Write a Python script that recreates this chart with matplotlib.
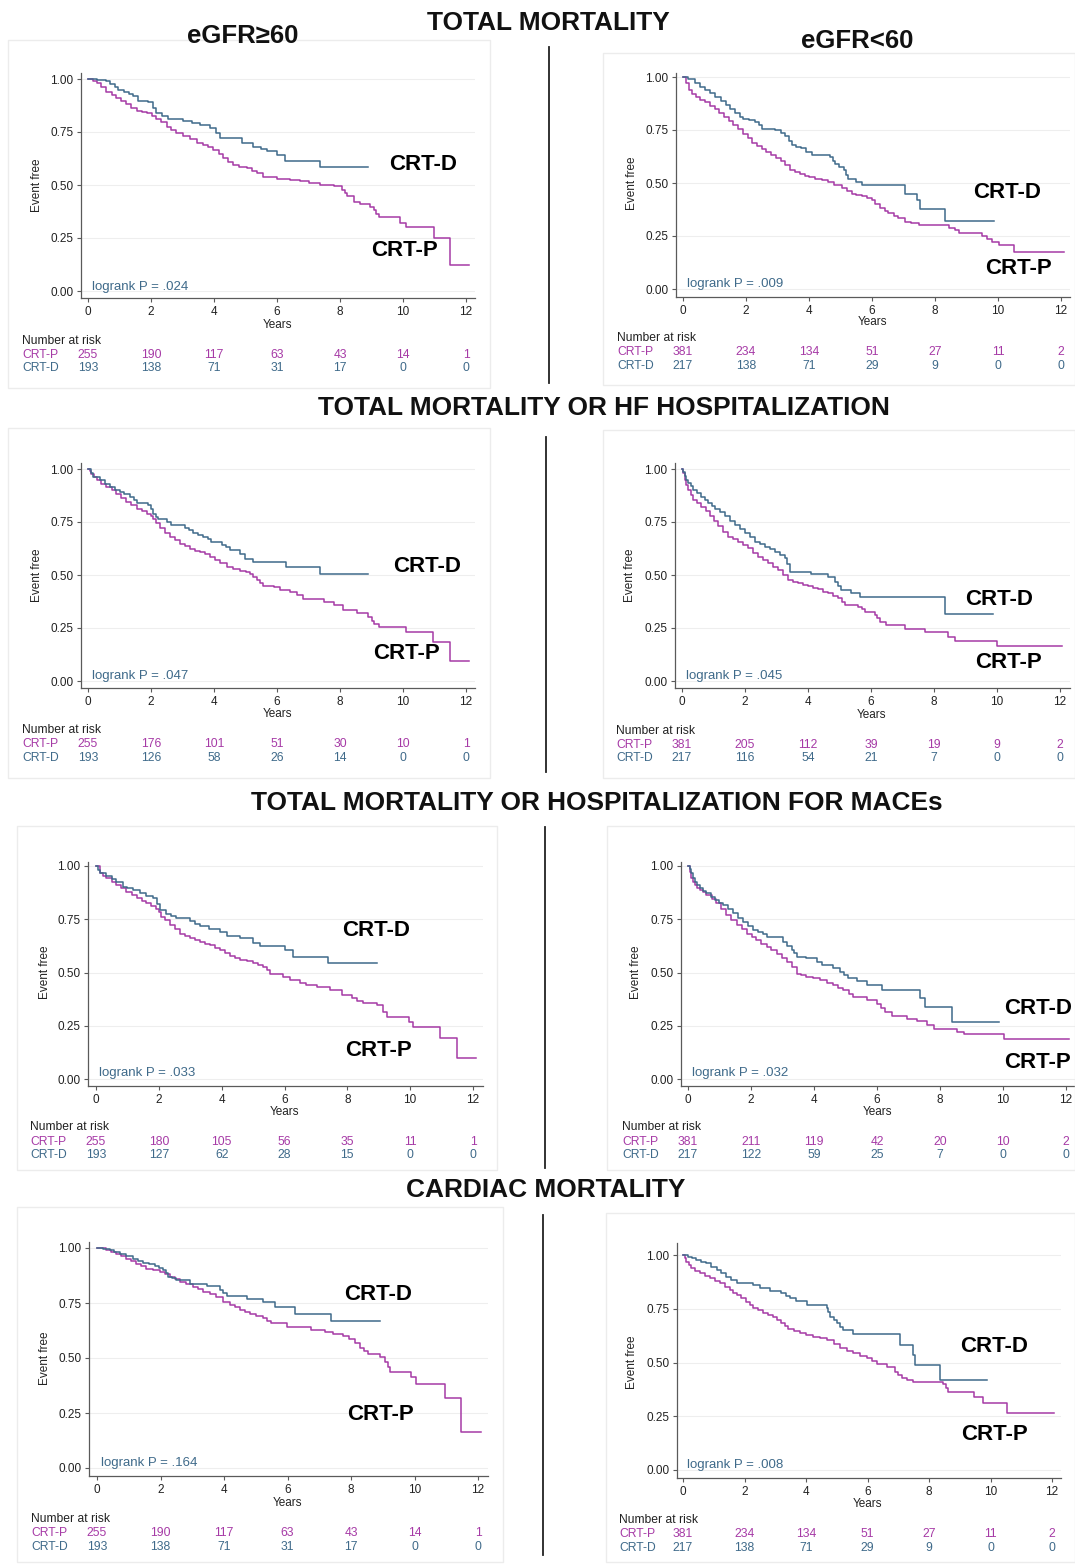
import matplotlib
matplotlib.use('Agg')
import matplotlib.pyplot as plt
from matplotlib.transforms import blended_transform_factory
from matplotlib.patches import Rectangle
from matplotlib.lines import Line2D

plt.rcParams['font.family'] = ['Liberation Sans', 'DejaVu Sans']

# ---------------- DATA ----------------
years_ticks = [0, 2, 4, 6, 8, 10, 12]
y_ticks = [0.0, 0.25, 0.5, 0.75, 1.0]
groups = ['CRT-P', 'CRT-D']

# Panel 1: total mortality, eGFR>=60
tm_hi_d_t = [0, 0.3, 0.58, 0.7, 0.85, 0.95, 1.15, 1.3, 1.43, 1.6, 1.9, 2.05, 2.17, 2.35, 2.55, 3.0, 3.3, 3.55, 3.87, 4.05, 4.2, 4.9, 5.25, 5.5, 5.67, 6.0, 6.26, 7.37, 8.9]
tm_hi_d_s = [1.0, 0.995, 0.99, 0.975, 0.96, 0.95, 0.94, 0.93, 0.92, 0.895, 0.89, 0.865, 0.84, 0.825, 0.81, 0.80, 0.793, 0.785, 0.77, 0.745, 0.72, 0.70, 0.68, 0.67, 0.66, 0.64, 0.615, 0.585, 0.585]
tm_hi_p_t = [0, 0.15, 0.27, 0.42, 0.58, 0.75, 0.9, 1.05, 1.22, 1.38, 1.54, 1.7, 1.86, 2.02, 2.17, 2.33, 2.5, 2.65, 2.8, 3.0, 3.23, 3.45, 3.66, 3.82, 3.98, 4.15, 4.3, 4.45, 4.6, 4.8, 5.04, 5.2, 5.36, 5.57, 6.0, 6.4, 6.73, 7.0, 7.37, 7.8, 8.06, 8.15, 8.22, 8.43, 8.64, 8.96, 9.07, 9.15, 9.23, 9.92, 10.08, 10.98, 11.48, 12.09]
tm_hi_p_s = [1.0, 0.99, 0.98, 0.96, 0.94, 0.925, 0.91, 0.895, 0.88, 0.865, 0.848, 0.843, 0.84, 0.825, 0.81, 0.795, 0.775, 0.76, 0.745, 0.73, 0.715, 0.70, 0.69, 0.678, 0.666, 0.648, 0.627, 0.61, 0.595, 0.587, 0.58, 0.568, 0.556, 0.537, 0.528, 0.522, 0.517, 0.51, 0.50, 0.493, 0.477, 0.46, 0.446, 0.422, 0.41, 0.398, 0.383, 0.365, 0.348, 0.32, 0.30, 0.249, 0.123, 0.123]
tm_hi_risk_p = [255, 190, 117, 63, 43, 14, 1]
tm_hi_risk_d = [193, 138, 71, 31, 17, 0, 0]

# Panel 2: total mortality, eGFR<60
tm_lo_d_t = [0, 0.15, 0.37, 0.55, 0.69, 0.85, 1.0, 1.2, 1.38, 1.5, 1.64, 1.8, 1.9, 2.1, 2.28, 2.4, 2.5, 2.92, 3.1, 3.23, 3.35, 3.45, 3.6, 3.76, 3.9, 4.08, 4.67, 4.75, 4.83, 4.95, 5.1, 5.18, 5.25, 5.5, 5.67, 7.05, 7.42, 7.53, 8.32, 9.86]
tm_lo_d_s = [1.0, 0.99, 0.97, 0.955, 0.94, 0.925, 0.906, 0.885, 0.867, 0.85, 0.83, 0.81, 0.80, 0.795, 0.79, 0.775, 0.757, 0.75, 0.735, 0.72, 0.70, 0.68, 0.67, 0.663, 0.648, 0.63, 0.624, 0.605, 0.59, 0.575, 0.56, 0.54, 0.52, 0.506, 0.49, 0.447, 0.42, 0.376, 0.32, 0.32]
tm_lo_p_t = [0, 0.1, 0.2, 0.27, 0.4, 0.55, 0.7, 0.85, 1.0, 1.15, 1.3, 1.45, 1.6, 1.75, 1.9, 2.05, 2.2, 2.35, 2.5, 2.65, 2.8, 2.95, 3.1, 3.25, 3.4, 3.55, 3.7, 3.87, 4.0, 4.19, 4.4, 4.61, 4.8, 5.04, 5.2, 5.36, 5.5, 5.67, 5.85, 5.99, 6.1, 6.26, 6.4, 6.52, 6.7, 6.84, 7.05, 7.25, 7.48, 8.45, 8.64, 8.75, 9.49, 9.65, 9.81, 10.02, 10.5, 12.09]
tm_lo_p_s = [1.0, 0.97, 0.94, 0.92, 0.905, 0.89, 0.88, 0.865, 0.85, 0.83, 0.81, 0.793, 0.775, 0.755, 0.73, 0.71, 0.69, 0.675, 0.66, 0.645, 0.632, 0.62, 0.603, 0.585, 0.56, 0.55, 0.543, 0.535, 0.528, 0.52, 0.512, 0.505, 0.49, 0.475, 0.462, 0.45, 0.443, 0.44, 0.43, 0.42, 0.40, 0.38, 0.37, 0.357, 0.345, 0.334, 0.318, 0.31, 0.30, 0.29, 0.278, 0.263, 0.248, 0.235, 0.224, 0.208, 0.174, 0.174]
tm_lo_risk_p = [381, 234, 134, 51, 27, 11, 2]
tm_lo_risk_d = [217, 138, 71, 29, 9, 0, 0]

# Panel 3: total mortality or HF hospitalization, eGFR>=60
hf_hi_d_t = [0, 0.08, 0.16, 0.37, 0.55, 0.69, 0.85, 1.0, 1.15, 1.33, 1.45, 1.54, 1.9, 2.0, 2.07, 2.15, 2.23, 2.5, 2.65, 3.07, 3.2, 3.34, 3.5, 3.66, 3.8, 3.92, 4.24, 4.38, 4.5, 4.83, 4.98, 5.25, 6.3, 7.37, 8.9]
hf_hi_d_s = [1.0, 0.98, 0.96, 0.947, 0.93, 0.915, 0.90, 0.89, 0.88, 0.868, 0.855, 0.84, 0.83, 0.81, 0.79, 0.775, 0.766, 0.75, 0.734, 0.72, 0.71, 0.70, 0.69, 0.68, 0.668, 0.657, 0.64, 0.63, 0.617, 0.60, 0.577, 0.56, 0.537, 0.506, 0.506]
hf_hi_p_t = [0, 0.05, 0.1, 0.18, 0.27, 0.42, 0.58, 0.75, 0.9, 1.05, 1.22, 1.38, 1.54, 1.7, 1.86, 2.0, 2.07, 2.17, 2.28, 2.45, 2.6, 2.75, 2.92, 3.08, 3.23, 3.4, 3.55, 3.7, 3.87, 4.03, 4.19, 4.4, 4.6, 4.83, 5.0, 5.14, 5.25, 5.36, 5.47, 5.57, 5.89, 6.1, 6.42, 6.63, 6.84, 7.48, 7.8, 8.11, 8.54, 8.9, 9.0, 9.07, 9.23, 10.08, 10.96, 11.48, 12.09]
hf_hi_p_s = [1.0, 0.99, 0.978, 0.96, 0.947, 0.93, 0.915, 0.90, 0.884, 0.865, 0.844, 0.828, 0.813, 0.80, 0.79, 0.78, 0.766, 0.745, 0.72, 0.70, 0.68, 0.663, 0.648, 0.635, 0.624, 0.615, 0.608, 0.598, 0.585, 0.57, 0.556, 0.537, 0.53, 0.52, 0.512, 0.506, 0.49, 0.475, 0.46, 0.45, 0.443, 0.428, 0.42, 0.404, 0.388, 0.373, 0.357, 0.336, 0.32, 0.30, 0.285, 0.27, 0.257, 0.23, 0.184, 0.094, 0.094]
hf_hi_risk_p = [255, 176, 101, 51, 30, 10, 1]
hf_hi_risk_d = [193, 126, 58, 26, 14, 0, 0]

# Panel 4: total mortality or HF hospitalization, eGFR<60
hf_lo_d_t = [0, 0.04, 0.08, 0.13, 0.19, 0.27, 0.35, 0.48, 0.61, 0.72, 0.83, 0.94, 1.04, 1.2, 1.36, 1.52, 1.67, 1.83, 1.99, 2.15, 2.31, 2.47, 2.63, 2.8, 2.94, 3.1, 3.26, 3.34, 3.42, 4.11, 4.64, 4.85, 4.95, 5.06, 5.38, 5.65, 8.35, 9.88]
hf_lo_d_s = [1.0, 0.985, 0.965, 0.95, 0.934, 0.918, 0.902, 0.886, 0.87, 0.855, 0.84, 0.825, 0.81, 0.795, 0.776, 0.757, 0.737, 0.717, 0.697, 0.677, 0.658, 0.646, 0.634, 0.622, 0.61, 0.595, 0.58, 0.55, 0.516, 0.505, 0.492, 0.468, 0.45, 0.43, 0.413, 0.397, 0.315, 0.315]
hf_lo_p_t = [0, 0.04, 0.08, 0.13, 0.19, 0.27, 0.35, 0.48, 0.61, 0.75, 0.88, 1.0, 1.14, 1.3, 1.46, 1.62, 1.78, 1.94, 2.1, 2.26, 2.42, 2.58, 2.73, 2.9, 3.05, 3.2, 3.37, 3.53, 3.69, 3.85, 4.0, 4.16, 4.32, 4.48, 4.64, 4.8, 4.96, 5.07, 5.17, 5.59, 5.7, 5.8, 6.12, 6.2, 6.28, 6.49, 7.08, 7.71, 8.45, 8.66, 9.99, 12.05]
hf_lo_p_s = [1.0, 0.98, 0.95, 0.925, 0.902, 0.878, 0.855, 0.84, 0.823, 0.80, 0.776, 0.755, 0.73, 0.705, 0.68, 0.668, 0.658, 0.642, 0.626, 0.606, 0.587, 0.57, 0.555, 0.54, 0.524, 0.50, 0.476, 0.468, 0.46, 0.454, 0.448, 0.44, 0.432, 0.422, 0.413, 0.40, 0.39, 0.372, 0.357, 0.35, 0.338, 0.326, 0.31, 0.295, 0.279, 0.263, 0.244, 0.229, 0.208, 0.189, 0.166, 0.166]
hf_lo_risk_p = [381, 205, 112, 39, 19, 9, 2]
hf_lo_risk_d = [217, 116, 54, 21, 7, 0, 0]

# Panel 5: total mortality or hospitalization for MACEs, eGFR>=60
mace_hi_d_t = [0, 0.06, 0.12, 0.33, 0.5, 0.65, 0.86, 1.0, 1.18, 1.39, 1.6, 1.82, 1.93, 2.03, 2.24, 2.4, 2.56, 2.99, 3.15, 3.3, 3.6, 3.94, 4.16, 4.58, 5.0, 5.22, 6.01, 6.28, 7.4, 8.94]
mace_hi_d_s = [1.0, 0.98, 0.966, 0.955, 0.94, 0.926, 0.903, 0.895, 0.887, 0.871, 0.86, 0.848, 0.82, 0.793, 0.774, 0.765, 0.754, 0.74, 0.728, 0.718, 0.705, 0.69, 0.67, 0.66, 0.64, 0.624, 0.605, 0.574, 0.545, 0.545]
mace_hi_p_t = [0, 0.12, 0.22, 0.33, 0.5, 0.65, 0.8, 0.97, 1.13, 1.29, 1.45, 1.6, 1.76, 1.92, 2.0, 2.08, 2.2, 2.35, 2.5, 2.67, 2.83, 2.99, 3.15, 3.3, 3.46, 3.62, 3.78, 3.94, 4.1, 4.26, 4.42, 4.58, 4.8, 5.0, 5.16, 5.32, 5.43, 5.54, 5.96, 6.17, 6.49, 6.7, 7.02, 7.45, 7.82, 8.14, 8.32, 8.51, 8.94, 9.15, 9.25, 9.95, 10.1, 10.95, 11.49, 12.1]
mace_hi_p_s = [1.0, 0.966, 0.955, 0.942, 0.925, 0.91, 0.895, 0.88, 0.864, 0.848, 0.835, 0.824, 0.812, 0.80, 0.785, 0.762, 0.745, 0.723, 0.703, 0.683, 0.67, 0.66, 0.652, 0.644, 0.636, 0.628, 0.617, 0.605, 0.59, 0.577, 0.567, 0.558, 0.552, 0.545, 0.536, 0.527, 0.51, 0.495, 0.48, 0.464, 0.451, 0.44, 0.432, 0.417, 0.393, 0.378, 0.367, 0.357, 0.346, 0.315, 0.291, 0.268, 0.245, 0.194, 0.099, 0.099]
mace_hi_risk_p = [255, 180, 105, 56, 35, 11, 1]
mace_hi_risk_d = [193, 127, 62, 28, 15, 0, 0]

# Panel 6: total mortality or hospitalization for MACEs, eGFR<60
mace_lo_d_t = [0, 0.05, 0.1, 0.16, 0.21, 0.3, 0.37, 0.48, 0.58, 0.72, 0.85, 0.98, 1.11, 1.27, 1.43, 1.59, 1.75, 1.91, 2.07, 2.23, 2.39, 2.5, 3.02, 3.15, 3.29, 3.37, 3.45, 3.76, 4.08, 4.24, 4.61, 4.83, 4.96, 5.09, 5.36, 5.67, 6.15, 7.37, 7.53, 8.38, 9.86]
mace_lo_d_s = [1.0, 0.985, 0.966, 0.945, 0.926, 0.91, 0.895, 0.883, 0.871, 0.855, 0.84, 0.825, 0.817, 0.797, 0.777, 0.757, 0.738, 0.72, 0.70, 0.69, 0.683, 0.665, 0.644, 0.625, 0.605, 0.59, 0.574, 0.566, 0.55, 0.535, 0.52, 0.503, 0.488, 0.472, 0.46, 0.44, 0.42, 0.378, 0.339, 0.268, 0.268]
mace_lo_p_t = [0, 0.05, 0.1, 0.16, 0.21, 0.3, 0.37, 0.48, 0.58, 0.75, 0.9, 1.05, 1.22, 1.38, 1.54, 1.7, 1.86, 2.02, 2.17, 2.33, 2.5, 2.65, 2.81, 2.97, 3.13, 3.3, 3.45, 3.6, 3.76, 3.98, 4.19, 4.4, 4.61, 4.77, 4.93, 5.1, 5.25, 5.67, 5.99, 6.12, 6.26, 6.47, 6.95, 7.27, 7.58, 7.8, 8.54, 8.75, 10.02, 12.09]
mace_lo_p_s = [1.0, 0.97, 0.942, 0.925, 0.91, 0.898, 0.887, 0.876, 0.864, 0.845, 0.824, 0.798, 0.77, 0.745, 0.723, 0.703, 0.683, 0.668, 0.652, 0.636, 0.62, 0.605, 0.589, 0.57, 0.55, 0.525, 0.495, 0.487, 0.48, 0.472, 0.464, 0.452, 0.44, 0.428, 0.417, 0.40, 0.386, 0.373, 0.354, 0.335, 0.315, 0.296, 0.284, 0.271, 0.252, 0.234, 0.221, 0.21, 0.187, 0.187]
mace_lo_risk_p = [381, 211, 119, 42, 20, 10, 2]
mace_lo_risk_d = [217, 122, 59, 25, 7, 0, 0]

# Panel 7: cardiac mortality, eGFR>=60
cm_hi_d_t = [0, 0.2, 0.4, 0.55, 0.71, 0.92, 1.13, 1.3, 1.45, 1.65, 1.82, 1.95, 2.08, 2.16, 2.24, 2.37, 2.5, 2.92, 3.45, 3.87, 3.97, 4.08, 4.71, 5.23, 5.6, 6.23, 7.38, 8.9]
cm_hi_d_s = [1.0, 0.995, 0.99, 0.983, 0.974, 0.963, 0.952, 0.943, 0.934, 0.926, 0.918, 0.909, 0.899, 0.885, 0.87, 0.862, 0.853, 0.838, 0.826, 0.81, 0.795, 0.78, 0.766, 0.755, 0.73, 0.698, 0.67, 0.67]
cm_hi_p_t = [0, 0.29, 0.45, 0.61, 0.77, 0.92, 1.08, 1.24, 1.4, 1.55, 1.76, 1.97, 2.13, 2.29, 2.45, 2.6, 2.8, 3.03, 3.18, 3.34, 3.55, 3.76, 3.97, 4.18, 4.34, 4.5, 4.65, 4.81, 5.02, 5.23, 5.36, 5.49, 5.97, 6.75, 7.17, 7.44, 7.75, 7.95, 8.12, 8.28, 8.4, 8.54, 8.91, 9.07, 9.15, 9.23, 9.9, 10.06, 10.96, 11.48, 12.08]
cm_hi_p_s = [1.0, 0.99, 0.983, 0.974, 0.963, 0.952, 0.94, 0.929, 0.917, 0.906, 0.898, 0.891, 0.88, 0.87, 0.858, 0.846, 0.835, 0.823, 0.812, 0.80, 0.79, 0.778, 0.755, 0.74, 0.73, 0.718, 0.71, 0.70, 0.69, 0.68, 0.668, 0.657, 0.642, 0.627, 0.62, 0.61, 0.60, 0.585, 0.566, 0.544, 0.53, 0.518, 0.506, 0.483, 0.46, 0.438, 0.415, 0.382, 0.317, 0.162, 0.162]
cm_hi_risk_p = [255, 190, 117, 63, 43, 14, 1]
cm_hi_risk_d = [193, 138, 71, 31, 17, 0, 0]

# Panel 8: cardiac mortality, eGFR<60
cm_lo_d_t = [0, 0.16, 0.3, 0.43, 0.6, 0.76, 0.92, 1.09, 1.25, 1.41, 1.57, 1.74, 2.28, 2.5, 2.82, 3.2, 3.34, 3.47, 3.69, 4.02, 4.67, 4.72, 4.78, 4.9, 5.0, 5.1, 5.21, 5.54, 7.06, 7.49, 7.55, 8.36, 9.88]
cm_lo_d_s = [1.0, 0.992, 0.985, 0.977, 0.969, 0.961, 0.945, 0.93, 0.915, 0.90, 0.885, 0.871, 0.86, 0.845, 0.834, 0.822, 0.81, 0.80, 0.786, 0.767, 0.755, 0.735, 0.713, 0.697, 0.682, 0.667, 0.651, 0.633, 0.581, 0.535, 0.488, 0.419, 0.419]
cm_lo_p_t = [0, 0.06, 0.11, 0.19, 0.27, 0.4, 0.54, 0.7, 0.87, 1.03, 1.19, 1.35, 1.52, 1.63, 1.74, 1.9, 2.06, 2.17, 2.28, 2.45, 2.61, 2.77, 2.93, 3.07, 3.2, 3.31, 3.42, 3.6, 3.8, 4.0, 4.23, 4.45, 4.67, 4.9, 5.1, 5.32, 5.54, 5.75, 5.97, 6.14, 6.3, 6.62, 6.9, 7.0, 7.12, 7.3, 7.49, 8.47, 8.55, 8.63, 9.45, 9.77, 10.53, 12.07]
cm_lo_p_s = [1.0, 0.985, 0.969, 0.952, 0.938, 0.927, 0.915, 0.903, 0.891, 0.88, 0.868, 0.853, 0.837, 0.825, 0.814, 0.80, 0.783, 0.767, 0.752, 0.742, 0.732, 0.72, 0.71, 0.697, 0.682, 0.668, 0.654, 0.645, 0.636, 0.628, 0.62, 0.612, 0.605, 0.585, 0.566, 0.555, 0.543, 0.532, 0.52, 0.507, 0.493, 0.478, 0.457, 0.443, 0.43, 0.42, 0.411, 0.40, 0.38, 0.361, 0.341, 0.31, 0.264, 0.264]
cm_lo_risk_p = [381, 234, 134, 51, 27, 11, 2]
cm_lo_risk_d = [217, 138, 71, 29, 9, 0, 0]

pvalues = ['.024', '.009', '.047', '.045', '.033', '.032', '.164', '.008']

section_titles = ['TOTAL MORTALITY', 'TOTAL MORTALITY OR HF HOSPITALIZATION',
                  'TOTAL MORTALITY OR HOSPITALIZATION FOR MACEs', 'CARDIAC MORTALITY']
column_titles = ['eGFR\u226560', 'eGFR<60']

# ---------------- STYLE / LAYOUT ----------------
COL_P = '#A63AA6'
COL_D = '#3F6A8A'
SPINE = '#5a5a5a'
W, H = 1075, 1564

fig = plt.figure(figsize=(W / 100, H / 100), dpi=100)
fig.patch.set_facecolor('white')


def fx(x):
    return x / W


def fy(y):
    return 1 - y / H


# geometry (pixels): axes box L,R,T,B ; calibration px(0), px(12), py(1), py(0)
layouts = [
    dict(ax=(81, 475, 73, 298), cal=(88, 466, 79, 291), nar=(341, 355, 368), labx=22, ylabx=37,
         years=325, lr=(92, 287), cd=(423, 165, 'center'), cp=(404, 250, 'center'), box=(8, 40, 490, 388)),
    dict(ax=(676, 1070, 73, 297), cal=(683, 1061, 77, 289), nar=(338, 352, 366), labx=617, ylabx=632,
         years=322, lr=(687, 284), cd=(1007, 192, 'center'), cp=(1018, 268, 'center'), box=(603, 53, 1075, 385)),
    dict(ax=(81, 475, 463, 688), cal=(88, 466, 469, 681), nar=(730, 744, 758), labx=22, ylabx=37,
         years=714, lr=(92, 676), cd=(427, 567, 'center'), cp=(406, 653, 'center'), box=(8, 428, 490, 778)),
    dict(ax=(675, 1070, 463, 688), cal=(682, 1060, 469, 681), nar=(731, 745, 758), labx=616, ylabx=630,
         years=715, lr=(686, 676), cd=(999, 600, 'center'), cp=(1008, 663, 'center'), box=(603, 430, 1075, 778)),
    dict(ax=(88, 483, 862, 1086), cal=(96, 473, 866, 1079), nar=(1127, 1142, 1155), labx=30, ylabx=45,
         years=1112, lr=(99, 1073), cd=(376, 931, 'center'), cp=(378, 1050, 'center'), box=(17, 826, 497, 1170)),
    dict(ax=(681, 1075, 862, 1086), cal=(688, 1066, 866, 1079), nar=(1127, 1142, 1155), labx=622, ylabx=636,
         years=1112, lr=(692, 1073), cd=(1004, 1008, 'left'), cp=(1004, 1062, 'left'), box=(607, 826, 1075, 1170)),
    dict(ax=(89, 488, 1242, 1476), cal=(97, 478, 1248, 1468), nar=(1519, 1533, 1547), labx=31, ylabx=45,
         years=1503, lr=(101, 1463), cd=(378, 1294, 'center'), cp=(381, 1414, 'center'), box=(17, 1207, 503, 1562)),
    dict(ax=(677, 1061, 1243, 1478), cal=(683, 1052, 1255, 1470), nar=(1520, 1534, 1548), labx=619, ylabx=632,
         years=1504, lr=(687, 1465), cd=(994, 1346, 'center'), cp=(994, 1435, 'center'), box=(606, 1213, 1075, 1562)),
]

curves = [
    (tm_hi_p_t, tm_hi_p_s, tm_hi_d_t, tm_hi_d_s, tm_hi_risk_p, tm_hi_risk_d),
    (tm_lo_p_t, tm_lo_p_s, tm_lo_d_t, tm_lo_d_s, tm_lo_risk_p, tm_lo_risk_d),
    (hf_hi_p_t, hf_hi_p_s, hf_hi_d_t, hf_hi_d_s, hf_hi_risk_p, hf_hi_risk_d),
    (hf_lo_p_t, hf_lo_p_s, hf_lo_d_t, hf_lo_d_s, hf_lo_risk_p, hf_lo_risk_d),
    (mace_hi_p_t, mace_hi_p_s, mace_hi_d_t, mace_hi_d_s, mace_hi_risk_p, mace_hi_risk_d),
    (mace_lo_p_t, mace_lo_p_s, mace_lo_d_t, mace_lo_d_s, mace_lo_risk_p, mace_lo_risk_d),
    (cm_hi_p_t, cm_hi_p_s, cm_hi_d_t, cm_hi_d_s, cm_hi_risk_p, cm_hi_risk_d),
    (cm_lo_p_t, cm_lo_p_s, cm_lo_d_t, cm_lo_d_s, cm_lo_risk_p, cm_lo_risk_d),
]

for g, (pt, ps, dt, ds, rp, rd), pv in zip(layouts, curves, pvalues):
    # faint panel frame
    x0, y0, x1, y1 = g['box']
    fig.add_artist(Rectangle((fx(x0), fy(y1)), (x1 - x0) / W, (y1 - y0) / H,
                             transform=fig.transFigure, fill=False, edgecolor='#ececec', lw=1.0))
    L, R, T, B = g['ax']
    px0, px12, py1, py0 = g['cal']
    ax = fig.add_axes([L / W, 1 - B / H, (R - L) / W, (B - T) / H])
    sx = 12.0 / (px12 - px0)
    sy = 1.0 / (py0 - py1)
    ax.set_xlim((L - px0) * sx, (R - px0) * sx)
    ax.set_ylim((py0 - B) * sy, (py0 - T) * sy)
    ax.set_facecolor('none')
    for sp in ['top', 'right']:
        ax.spines[sp].set_visible(False)
    for sp in ['left', 'bottom']:
        ax.spines[sp].set_color(SPINE)
        ax.spines[sp].set_linewidth(0.9)
    ax.set_xticks(years_ticks)
    ax.set_yticks(y_ticks)
    ax.set_yticklabels(['%.2f' % v for v in y_ticks])
    ax.tick_params(axis='both', colors=SPINE, labelcolor='#222222', labelsize=8.5,
                   length=3, width=0.8, pad=2.5)
    for v in y_ticks:
        ax.axhline(v, color='#eeeeee', lw=0.8, zorder=0)
    ax.step(pt, ps, where='post', color=COL_P, lw=1.1, zorder=3)
    ax.step(dt, ds, where='post', color=COL_D, lw=1.1, zorder=3)

    # labels
    ymid = (py1 + py0) / 2
    fig.text(fx(g['ylabx']), fy(ymid), 'Event free', rotation=90, ha='center', va='center',
             fontsize=8.5, color='#222222')
    trans = blended_transform_factory(ax.transData, fig.transFigure)
    ax.text(6, fy(g['years']), 'Years', transform=trans, ha='center', va='center',
            fontsize=8.5, color='#222222', clip_on=False)
    fig.text(fx(g['lr'][0]), fy(g['lr'][1]), 'logrank P = ' + pv, ha='left', va='center',
             fontsize=9.5, color=COL_D)
    fig.text(fx(g['cd'][0]), fy(g['cd'][1]), 'CRT-D', ha=g['cd'][2], va='center',
             fontsize=16, fontweight='bold', color='black')
    fig.text(fx(g['cp'][0]), fy(g['cp'][1]), 'CRT-P', ha=g['cp'][2], va='center',
             fontsize=16, fontweight='bold', color='black')

    # number at risk table
    n0, n1, n2 = g['nar']
    fig.text(fx(g['labx']), fy(n0), 'Number at risk', ha='left', va='center', fontsize=8.7, color='#222222')
    fig.text(fx(g['labx']), fy(n1), groups[0], ha='left', va='center', fontsize=8.7, color=COL_P)
    fig.text(fx(g['labx']), fy(n2), groups[1], ha='left', va='center', fontsize=8.7, color=COL_D)
    for tk, a, b in zip(years_ticks, rp, rd):
        ax.text(tk, fy(n1), str(a), transform=trans, ha='center', va='center', fontsize=8.7,
                color=COL_P, clip_on=False)
        ax.text(tk, fy(n2), str(b), transform=trans, ha='center', va='center', fontsize=8.7,
                color=COL_D, clip_on=False)

# section titles
title_pos = [(548, 23), (604, 408), (597, 803), (546, 1190)]
for t, (x, y) in zip(section_titles, title_pos):
    fig.text(fx(x), fy(y), t, ha='center', va='center', fontsize=18.9, fontweight='bold', color='#111111')
fig.text(fx(243), fy(36), column_titles[0], ha='center', va='center', fontsize=18.5, fontweight='bold', color='#111111')
fig.text(fx(857), fy(41), column_titles[1], ha='center', va='center', fontsize=18.5, fontweight='bold', color='#111111')

# vertical dividers
for x, ya, yb in [(549, 47, 383), (546, 437, 772), (545, 827, 1168), (543, 1215, 1555)]:
    fig.add_artist(Line2D([fx(x), fx(x)], [fy(ya), fy(yb)], transform=fig.transFigure,
                          color='#222222', lw=1.3))

fig.savefig('out.png', dpi=100, facecolor='white')
